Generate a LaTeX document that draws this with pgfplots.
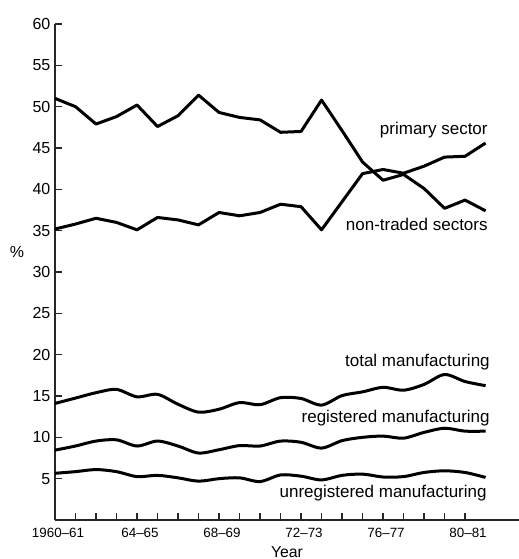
\documentclass[border=0pt]{standalone}
\usepackage{fontspec}
\setmainfont{Liberation Sans}
\usepackage{pgfplots}
\pgfplotsset{compat=1.18}
\usepackage{pgfplotstable}

\pgfplotstableread{
i v
0 51.0
1 50.0
2 47.9
3 48.8
4 50.2
5 47.6
6 48.9
7 51.4
8 49.3
9 48.7
10 48.4
11 46.9
12 47.0
13 50.8
14 47.1
15 43.3
16 41.1
17 41.8
18 40.1
19 37.7
20 38.7
21 37.4
}\primary

\pgfplotstableread{
i v
0 35.2
1 35.8
2 36.5
3 36.0
4 35.1
5 36.6
6 36.3
7 35.7
8 37.2
9 36.8
10 37.2
11 38.2
12 37.9
13 35.1
14 38.5
15 41.9
16 42.4
17 41.95
18 42.8
19 43.9
20 44.0
21 45.6
}\nontraded

\pgfplotstableread{
i v
0 14.1
1 14.75
2 15.4
3 15.8
4 14.9
5 15.2
6 14.0
7 13.05
8 13.4
9 14.2
10 13.95
11 14.8
12 14.7
13 13.9
14 15.05
15 15.5
16 16.05
17 15.7
18 16.4
19 17.6
20 16.75
21 16.25
}\totalman

\pgfplotstableread{
i v
0 8.45
1 8.95
2 9.55
3 9.7
4 8.95
5 9.55
6 8.95
7 8.1
8 8.5
9 9.0
10 8.95
11 9.55
12 9.4
13 8.7
14 9.6
15 10.0
16 10.15
17 9.9
18 10.6
19 11.1
20 10.75
21 10.75
}\regman

\pgfplotstableread{
i v
0 5.65
1 5.85
2 6.1
3 5.85
4 5.25
5 5.4
6 5.1
7 4.7
8 5.0
9 5.1
10 4.65
11 5.45
12 5.3
13 4.85
14 5.4
15 5.55
16 5.2
17 5.25
18 5.75
19 5.95
20 5.75
21 5.15
}\unregman

\begin{document}
\begin{tikzpicture}
\begin{axis}[
  scale only axis, width=232pt, height=248pt,
  xmin=0, xmax=22.63, ymin=0, ymax=60,
  axis lines=left,
  axis line style={-, line width=0.7pt, black!85},
  tick align=inside, major tick length=3.5pt,
  tick style={line width=0.7pt, black!85},
  xtick={0,...,20},
  xticklabels={1960–61,,,,64–65,,,,68–69,,,,72–73,,,,76–77,,,,80–81},
  ytick={5,10,...,60},
  /pgf/number format/assume math mode=true,
  yticklabel style={font=\fontsize{8}{9}\selectfont, xshift=1.2pt},
  xticklabel style={font=\fontsize{6.7}{8}\selectfont, yshift=-0.5pt, xshift=1.5pt},
  xlabel={Year},
  xlabel style={font=\fontsize{7.9}{9}\selectfont, at={(axis description cs:0.5,0)}, anchor=base, yshift=-18.8pt},
  ylabel={\%},
  ylabel style={font=\fontsize{8}{9}\selectfont, rotate=-90, at={(axis description cs:-0.082,0.54)}, anchor=center},
  clip=false,
]
\addplot[black, line width=1.5pt, line join=round, mark=none] table[x=i, y=v] {\primary};
\addplot[black, line width=1.5pt, line join=round, mark=none] table[x=i, y=v] {\nontraded};
\addplot[black, line width=1.5pt, smooth, tension=0.5, mark=none] table[x=i, y=v] {\totalman};
\addplot[black, line width=1.5pt, smooth, tension=0.5, mark=none] table[x=i, y=v] {\regman};
\addplot[black, line width=1.5pt, smooth, tension=0.5, mark=none] table[x=i, y=v] {\unregman};
\begin{scope}[every node/.style={font=\fontsize{8.5}{10}\selectfont, anchor=base east, inner sep=0pt}]
\node at (axis cs:21.12,46.6) {primary sector};
\node at (axis cs:21.12,35.07) {non-traded sectors};
\node at (axis cs:21.22,18.6) {total manufacturing};
\node at (axis cs:21.22,11.75) {registered manufacturing};
\node at (axis cs:21.07,2.7) {unregistered manufacturing};
\end{scope}
\end{axis}
\pgfresetboundingbox
\path (-27.5pt,-19.5pt) rectangle (232pt,260pt);
\end{tikzpicture}
\end{document}
